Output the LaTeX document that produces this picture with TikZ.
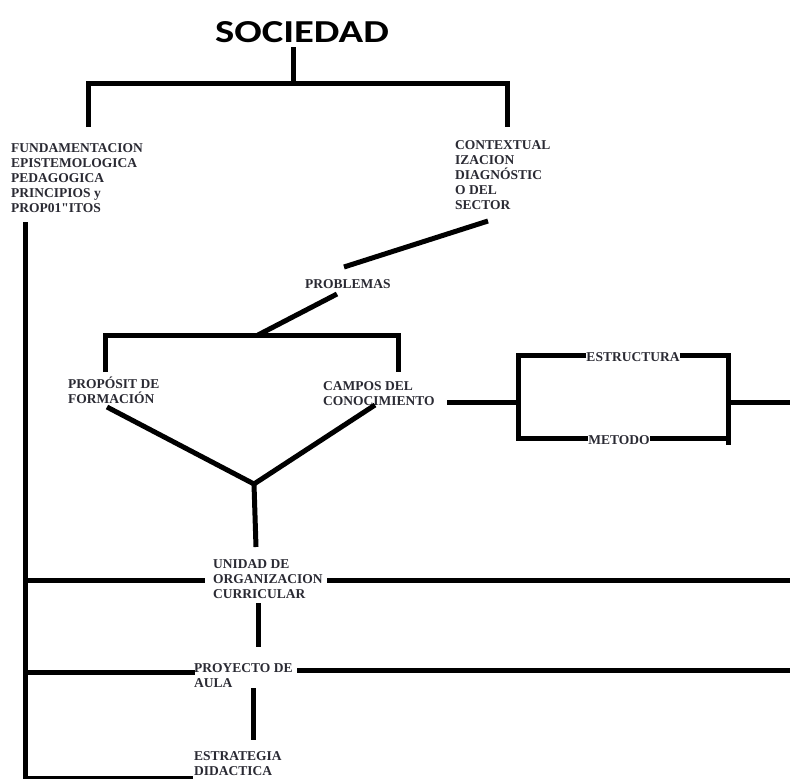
\documentclass[tikz,border=0pt]{standalone}
\usepackage{fontspec}
\newfontfamily\diagfont{Liberation Serif}
\newfontfamily\titlefont{Carlito}
\usetikzlibrary{positioning}
\definecolor{inkgray}{HTML}{2A2A33}

\begin{document}
\begin{tikzpicture}[
   x=1pt, y=-1pt,
   concept/.style={anchor=base west, inner sep=0pt, align=left, text=inkgray,
                   font=\diagfont\bfseries\fontsize{13.5}{15}\selectfont},
   label/.style={inner sep=0pt, text=inkgray, font=\diagfont\bfseries\fontsize{13.5}{15}\selectfont},
   title/.style={inner sep=0pt, font=\titlefont\bfseries\fontsize{32}{32}\selectfont},
   line/.style={-, line width=5pt}
]
\useasboundingbox[fill=white] (0,0) rectangle (790,779);

% Title
\node[title] (soc) at (302,32) {\scalebox{1.27}[1]{SOCIEDAD}};
\coordinate (soctop) at (293,47);
\coordinate (socmid) at (293,83);
\coordinate (fundtop) at (88,127);
\coordinate (ctxtop) at (507,127);
\draw[line] (soctop) -- (socmid);
\draw[line] (fundtop) |- (socmid) -| (ctxtop);

% First level (base = last line)
\node[concept] (fund) at (11,212) {FUNDAMENTACION\\EPISTEMOLOGICA\\PEDAGOGICA\\PRINCIPIOS y\\PROP01"ITOS};
\node[concept] (ctx) at (455,209) {CONTEXTUAL\\IZACION\\DIAGNÓSTIC\\O DEL\\SECTOR};

% Spine
\coordinate (spinetop) at (25,222);
\coordinate (spinebot) at (25,779);
\draw[line] (spinetop) -- (spinebot);

% Problemas
\node[concept] (prob) at (305,288) {PROBLEMAS};
\coordinate (ctxout) at (488,221);
\coordinate (probin) at (344,267);
\coordinate (probout) at (337,294);
\coordinate (probmid) at (258,335);
\draw[line] (ctxout) -- (probin);
\draw[line] (probout) -- (probmid);

% Proposito / Campos
\coordinate (propin) at (105,372);
\coordinate (campin) at (398,372);
\draw[line] (propin) |- (probmid) -| (campin);
\node[concept] (prop) at (68,403) {PROPÓSIT DE\\FORMACIÓN};
\node[concept] (camp) at (323,405) {CAMPOS DEL\\CONOCIMIENTO};

% Estructura / Metodo
\node[label] (est) at (633,357) {ESTRUCTURA};
\node[label] (met) at (619,440) {METODO};
\coordinate (campout) at (447,402);
\coordinate (estL) at (518,355);
\coordinate (metL) at (518,438);
\coordinate (estR) at (728,355);
\coordinate (metR) at (728,445);
\coordinate (brout) at (728,402);
\coordinate (right1) at (790,402);
\draw[line] (campout) -- (campout -| estL);
\draw[line] (est.west |- estL) -- (estL) -- (metL) -- (met.west |- metL);
\draw[line] (est.east |- estR) -- (estR) -- (metR);
\draw[line] (met.east |- metL) -- (metL -| metR);
\draw[line] (brout) -- (right1);

% V to unidad
\coordinate (vleft) at (107,407);
\coordinate (vright) at (375,405);
\coordinate (vbot) at (254,484);
\coordinate (uocin) at (256,547);
\draw[line] (vleft) -- (vbot) -- (vright);
\draw[line] (vbot) -- (uocin);

% Unidad de organizacion curricular
\node[concept] (uoc) at (213,598) {UNIDAD DE\\ORGANIZACION\\CURRICULAR};
\coordinate (uocL) at (205,580);
\coordinate (uocR) at (327,580);
\coordinate (right2) at (790,580);
\draw[line] (spinetop |- uocL) -- (uocL);
\draw[line] (uocR) -- (right2);
\coordinate (uocout) at (258,603);
\coordinate (pain) at (258,647);
\draw[line] (uocout) -- (pain);

% Proyecto de aula
\node[concept] (pa) at (194,687) {PROYECTO DE\\AULA};
\coordinate (paL) at (195,672);
\coordinate (paR) at (297,670);
\coordinate (right3) at (790,670);
\draw[line] (spinetop |- paL) -- (paL);
\draw[line] (paR) -- (right3);
\coordinate (paout) at (253,688);
\coordinate (edin) at (253,740);
\draw[line] (paout) -- (edin);

% Estrategia didactica
\node[concept] (ed) at (194,775) {ESTRATEGIA\\DIDACTICA};
\coordinate (edL) at (193,778);
\draw[line] (spinebot |- edL) -- (edL);

\end{tikzpicture}
\end{document}
